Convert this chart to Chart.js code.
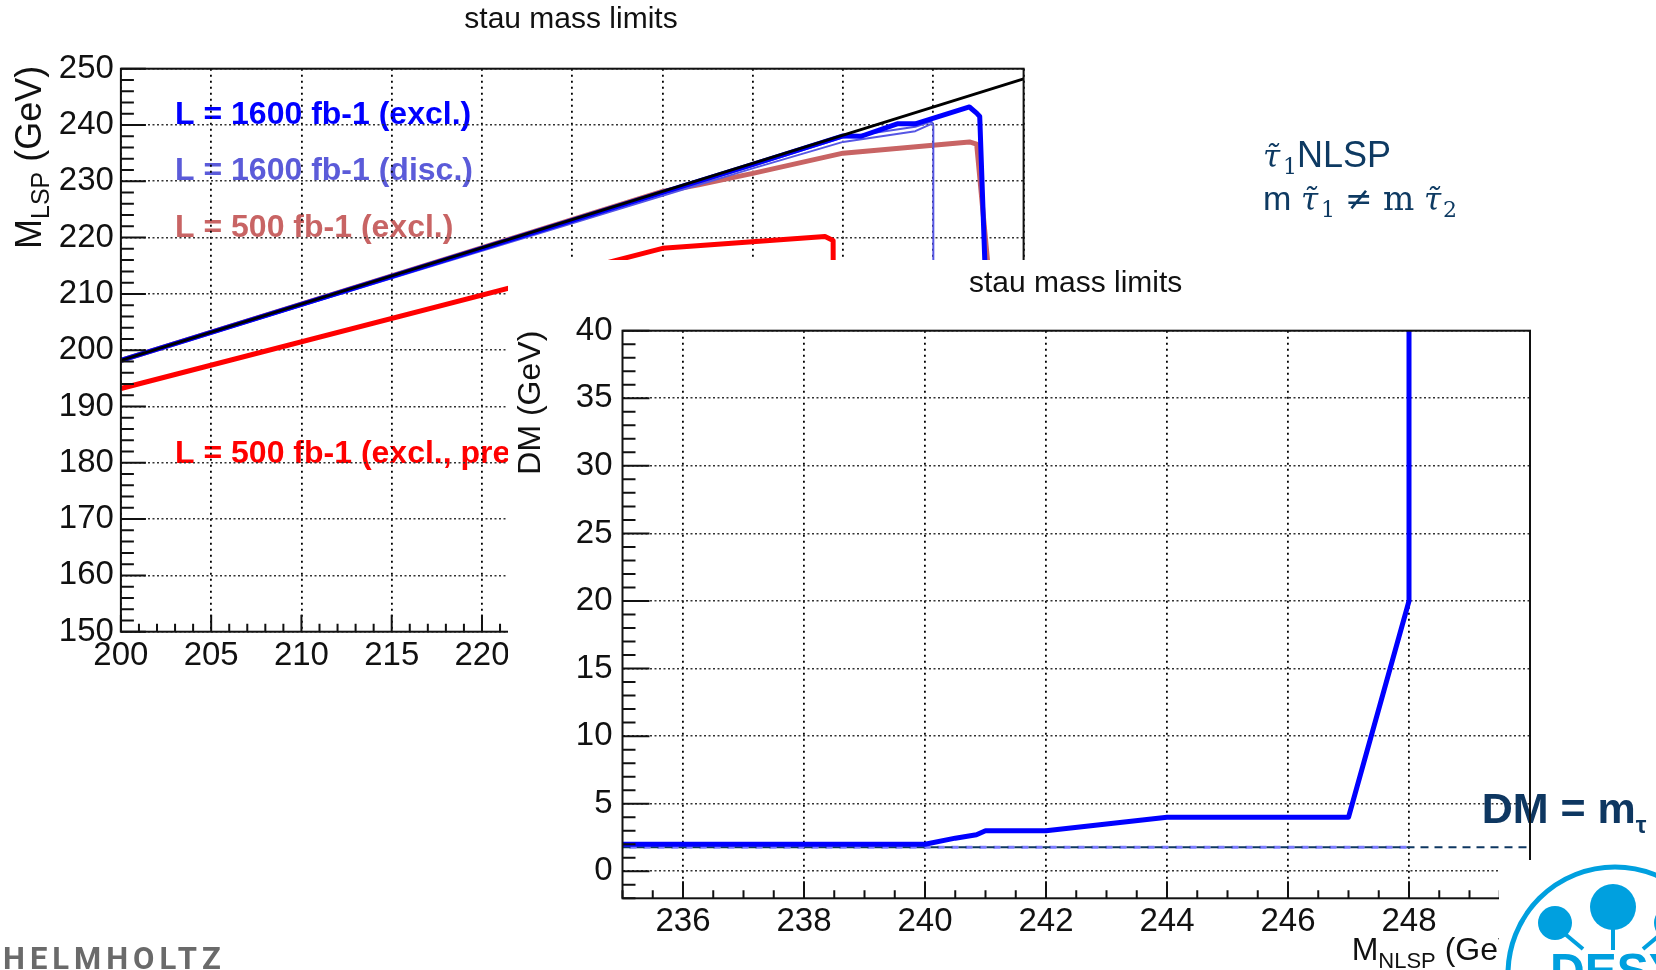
<!DOCTYPE html>
<html>
<head>
<meta charset="utf-8">
<title>stau mass limits</title>
<script src="https://cdn.jsdelivr.net/npm/chart.js@4.4.1/dist/chart.umd.min.js"></script>
<style>
  html, body { margin: 0; padding: 0; background: #fff; }
  body { width: 1656px; height: 970px; position: relative; overflow: hidden; font-family: 'Liberation Sans', Arial, sans-serif; }
  #lspBox { position: absolute; left: 0; top: 0; width: 1142px; height: 700px; }
  #dmBox { position: absolute; left: 508px; top: 260px; width: 1148px; height: 710px; background: #fff; }
  canvas { display: block; }
  #notes { position: absolute; left: 0; top: 0; pointer-events: none; }
  #logo { position: absolute; left: 1499px; top: 860px; width: 157px; height: 110px; background: #fff; overflow: hidden; }
</style>
</head>
<body>
<div id="lspBox"><canvas id="lsp" width="1142" height="700"></canvas></div>
<div id="dmBox"><canvas id="dm" width="1148" height="710"></canvas></div>

<svg id="notes" width="1656" height="970" xmlns="http://www.w3.org/2000/svg">
  <g fill="#0e3a62">
    <text y="167" font-family="Liberation Sans, Arial, sans-serif" font-size="36">
      <tspan x="1263" font-family="DejaVu Serif" font-style="italic" font-size="31">τ̃</tspan><tspan x="1283" dy="7" font-family="DejaVu Serif" font-size="22">1</tspan><tspan x="1297" dy="-7">NLSP</tspan>
    </text>
    <text y="210" font-family="Liberation Sans, Arial, sans-serif" font-size="34">
      <tspan x="1263">m</tspan><tspan x="1301" font-family="DejaVu Serif" font-style="italic" font-size="31">τ̃</tspan><tspan x="1321" dy="7" font-family="DejaVu Serif" font-size="22">1</tspan><tspan x="1345" dy="-7" font-family="DejaVu Serif" font-size="33">≠</tspan><tspan x="1383" font-family="DejaVu Serif" font-size="33">m</tspan><tspan x="1424" font-family="DejaVu Serif" font-style="italic" font-size="31">τ̃</tspan><tspan x="1443" dy="7" font-family="DejaVu Serif" font-size="22">2</tspan>
    </text>
  </g>
  <text x="3" y="969" font-family="Roboto, 'Liberation Sans', sans-serif" font-weight="700" font-size="31" letter-spacing="5" fill="#6a6a6a">HELMHOLTZ</text>
</svg>

<div id="logo">
  <svg width="157" height="110" xmlns="http://www.w3.org/2000/svg">
    <g fill="#00a0df" stroke="#00a0df">
      <circle cx="116" cy="114" r="107" fill="none" stroke-width="5"/>
      <circle cx="114" cy="47" r="23" stroke="none"/>
      <line x1="114" y1="66" x2="114" y2="90" stroke-width="4"/>
      <circle cx="56" cy="63" r="17" stroke="none"/>
      <line x1="66" y1="74" x2="84" y2="89" stroke-width="4"/>
      <circle cx="172" cy="63" r="17" stroke="none"/>
      <line x1="162" y1="74" x2="144" y2="89" stroke-width="4"/>
      <text x="51" y="127" stroke="none" font-family="Liberation Sans, Arial, sans-serif" font-weight="700" font-size="48">DESY</text>
    </g>
  </svg>
</div>

<script>
// ---------- axis ticks ----------
const lspTicksX = [200, 205, 210, 215, 220, 225, 230, 235, 240, 245, 250];
const lspTicksY = [150, 160, 170, 180, 190, 200, 210, 220, 230, 240, 250];
const dmTicksX  = [236, 238, 240, 242, 244, 246, 248];
const dmTicksY  = [0, 5, 10, 15, 20, 25, 30, 35, 40];

// ---------- M_LSP vs M_NLSP contours, [M_NLSP, M_LSP] in GeV ----------
const kinematicEdge  = [[200, 198.2], [250, 248.2]];
const excl1600       = [[200, 198.2], [235, 233.0], [240, 238.05], [241, 238.0], [243, 240.2], [244, 240.2],
                        [247, 243.2], [247.4, 242.1], [247.57, 241.5], [247.85, 216], [247.9, 150]];
const disc1600Upper  = [[200, 198.2], [235, 232.7], [240, 237.8], [244, 239.7], [244.9, 240.6], [245, 240], [245, 150]];
const disc1600Lower  = [[200, 198.1], [235, 232.3], [240, 237.0], [244, 238.9], [244.9, 240.2]];
const excl500        = [[200, 198.2], [230, 228.2], [232, 229.4], [235, 231.4], [240, 235.0], [247, 237.0],
                        [247.4, 236.6], [248, 216], [248.1, 150]];
const excl500prelim  = [[200, 193.2], [230, 218.1], [239, 220.2], [239.45, 219.5], [239.5, 150]];
const lspLabels      = ['L = 1600 fb-1 (excl.)', 'L = 1600 fb-1 (disc.)', 'L = 500 fb-1 (excl.)', 'L = 500 fb-1 (excl., prel.)'];

// ---------- DM vs M_NLSP, [M_NLSP, DM] in GeV ----------
const dmExcl1600 = [[235, 2], [240, 2], [240.5, 2.45], [240.85, 2.7], [241, 3], [242, 3], [244, 4], [247, 4], [248, 20], [248, 40]];
const mTau = 1.777;
const dmTauBlue = [[235, mTau], [248, mTau]];
const dmTauLine = [[235, mTau], [250, mTau]];

const FONT = "'Liberation Sans', Arial, Helvetica, sans-serif";
const toXY = arr => arr.map(([x, y]) => ({ x, y }));

function partsWidth(ctx, parts) {
  let w = 0;
  for (const p of parts) { ctx.font = (p.bold ? 'bold ' : '') + p.size + 'px ' + FONT; w += ctx.measureText(p.t).width; }
  return w;
}
function drawParts(ctx, parts, x, y, align) {
  const w = partsWidth(ctx, parts);
  let cx = align === 'right' ? x - w : align === 'center' ? x - w / 2 : x;
  ctx.textAlign = 'left';
  ctx.textBaseline = 'alphabetic';
  for (const p of parts) {
    ctx.font = (p.bold ? 'bold ' : '') + p.size + 'px ' + FONT;
    ctx.fillText(p.t, cx, y + (p.dy || 0));
    cx += ctx.measureText(p.t).width;
  }
}

// ROOT-style inner ticks, frame and axis titles
function rootFrame(o) {
  return {
    id: 'rootFrame',
    beforeDraw(chart) { if (o.under) o.under(chart); },
    beforeDatasetsDraw(chart) { if (o.over) o.over(chart); },
    afterDatasetsDraw(chart) {
      const { ctx, chartArea: a, scales: { x, y } } = chart;
      ctx.save();
      ctx.strokeStyle = '#111';
      ctx.lineWidth = 2;
      ctx.beginPath();
      for (let v = x.min; v <= x.max + 1e-6; v += o.xMinor) {
        const px = x.getPixelForValue(v);
        const major = Math.abs((v - o.xMajor0) / o.xMajor - Math.round((v - o.xMajor0) / o.xMajor)) < 1e-6;
        ctx.moveTo(px, a.bottom);
        ctx.lineTo(px, a.bottom - (major ? o.xMajorLen : o.xMinorLen));
      }
      for (let v = y.min; v <= y.max + 1e-6; v += o.yMinor) {
        const py = y.getPixelForValue(v);
        const major = Math.abs((v - o.yMajor0) / o.yMajor - Math.round((v - o.yMajor0) / o.yMajor)) < 1e-6;
        ctx.moveTo(a.left, py);
        ctx.lineTo(a.left + (major ? o.yMajorLen : o.yMinorLen), py);
      }
      ctx.stroke();
      ctx.strokeStyle = '#111';
      ctx.lineWidth = 2;
      ctx.strokeRect(a.left, a.top, a.right - a.left, a.bottom - a.top);
      ctx.restore();

      ctx.save();
      ctx.fillStyle = '#111';
      ctx.font = '30px ' + FONT;
      ctx.textAlign = 'center';
      ctx.textBaseline = 'middle';
      ctx.fillText('stau mass limits', o.titleX, o.titleY);
      // y-axis title, top aligned
      ctx.translate(o.yTitleX, a.top + o.yTitleShift);
      ctx.rotate(-Math.PI / 2);
      drawParts(ctx, o.yTitle, 0, 0, 'right');
      ctx.restore();
      ctx.save();
      ctx.fillStyle = '#111';
      drawParts(ctx, o.xTitle, a.right, o.xTitleY, 'right');
      ctx.restore();
    }
  };
}

const gridX = { color: '#000', lineWidth: 1.8, drawTicks: false };
const gridY = { color: '#333', lineWidth: 1.6, drawTicks: false };
const tickFont = { family: FONT, size: 33 };

// ---------- M_LSP plot ----------
new Chart(document.getElementById('lsp'), {
  type: 'scatter',
  data: {
    datasets: [
      { data: toXY(kinematicEdge), borderColor: '#000', borderWidth: 3 },
      { data: toXY(excl1600), borderColor: '#0000ff', borderWidth: 5 },
      { data: toXY(disc1600Upper), borderColor: '#5656e4', borderWidth: 2 },
      { data: toXY(disc1600Lower), borderColor: '#5656e4', borderWidth: 2 },
      { data: toXY(excl500), borderColor: '#c86464', borderWidth: 5 },
      { data: toXY(excl500prelim), borderColor: '#ff0000', borderWidth: 5 }
    ].map(d => Object.assign(d, { showLine: true, pointRadius: 0, tension: 0, borderJoinStyle: 'round' }))
  },
  options: {
    responsive: false,
    devicePixelRatio: 1,
    animation: false,
    layout: { padding: { left: 0, top: 68.7, right: 118.4, bottom: 18.3 } },
    plugins: { legend: { display: false }, tooltip: { enabled: false } },
    scales: {
      x: {
        type: 'linear', min: 200, max: 250,
        afterBuildTicks: s => { s.ticks = lspTicksX.map(v => ({ value: v })); },
        afterFit: s => { s.height = 50; },
        ticks: { font: tickFont, color: '#111', padding: 4, maxRotation: 0, autoSkip: false },
        grid: gridX, border: { display: false, dash: [2, 4] }
      },
      y: {
        type: 'linear', min: 150, max: 250,
        afterBuildTicks: s => { s.ticks = lspTicksY.map(v => ({ value: v })); },
        afterFit: s => { s.width = 120.9; },
        ticks: { font: tickFont, color: '#111', padding: 7, autoSkip: false },
        grid: gridY, border: { display: false, dash: [2, 2.5] }
      }
    }
  },
  plugins: [rootFrame({
    xMinor: 1, xMajor: 5, xMajor0: 200, xMajorLen: 17, xMinorLen: 8,
    yMinor: 2, yMajor: 10, yMajor0: 150, yMajorLen: 25, yMinorLen: 13,
    titleX: 571, titleY: 20, yTitleX: 41, yTitleShift: -3,
    yTitle: [{ t: 'M', size: 36 }, { t: 'LSP', size: 25, dy: 8 }, { t: ' (GeV)', size: 36 }],
    xTitle: [{ t: 'M', size: 32 }, { t: 'NLSP', size: 22, dy: 8 }, { t: ' (GeV)', size: 32 }],
    xTitleY: 693,
    under(chart) {
      const { ctx, scales: { x, y } } = chart;
      const colors = ['#0000ff', '#5b5bd9', '#c86464', '#ff0000'];
      const at = [240.2, 230.2, 220.05, 179.9];
      ctx.save();
      ctx.font = 'bold 32px ' + FONT;
      ctx.textAlign = 'left';
      ctx.textBaseline = 'alphabetic';
      lspLabels.forEach((t, i) => {
        ctx.fillStyle = colors[i];
        ctx.fillText(t, x.getPixelForValue(203), y.getPixelForValue(at[i]));
      });
      ctx.restore();
    }
  })]
});

// ---------- DM plot ----------
new Chart(document.getElementById('dm'), {
  type: 'scatter',
  data: {
    datasets: [
      { data: toXY(dmExcl1600), borderColor: '#0000ff', borderWidth: 5 },
      { data: toXY(dmTauLine), borderColor: '#0e3761', borderWidth: 2, borderDash: [8, 6] },
      { data: toXY(dmTauBlue), borderColor: '#7a7aff', borderWidth: 3, borderDash: [7, 7], borderDashOffset: 7 }
    ].map(d => Object.assign(d, { showLine: true, pointRadius: 0, tension: 0, borderJoinStyle: 'round' }))
  },
  options: {
    responsive: false,
    devicePixelRatio: 1,
    animation: false,
    layout: { padding: { left: 0, top: 70.7, right: 126, bottom: 21.7 } },
    plugins: { legend: { display: false }, tooltip: { enabled: false } },
    scales: {
      x: {
        type: 'linear', min: 235, max: 250,
        afterBuildTicks: s => { s.ticks = dmTicksX.map(v => ({ value: v })); },
        afterFit: s => { s.height = 50; },
        ticks: { font: tickFont, color: '#111', padding: 4, maxRotation: 0, autoSkip: false },
        grid: gridX, border: { display: false, dash: [2, 4] }
      },
      y: {
        type: 'linear', min: -2, max: 40,
        afterBuildTicks: s => { s.ticks = dmTicksY.map(v => ({ value: v })); },
        afterFit: s => { s.width = 114.5; },
        ticks: { font: tickFont, color: '#111', padding: 10, autoSkip: false },
        grid: gridY, border: { display: false, dash: [2, 2.5] }
      }
    }
  },
  plugins: [rootFrame({
    xMinor: 0.5, xMajor: 2, xMajor0: 236, xMajorLen: 17, xMinorLen: 8,
    yMinor: 1, yMajor: 5, yMajor0: 0, yMajorLen: 27, yMinorLen: 13,
    titleX: 567.6, titleY: 24, yTitleX: 32, yTitleShift: 0,
    yTitle: [{ t: 'DM (GeV)', size: 32 }],
    xTitle: [{ t: 'M', size: 32 }, { t: 'NLSP', size: 22, dy: 8 }, { t: ' (GeV)', size: 32 }],
    xTitleY: 700,
    over(chart) {
      const ctx = chart.ctx;
      ctx.save();
      ctx.fillStyle = '#0e3761';
      drawParts(ctx, [{ t: 'DM = m', size: 43, bold: true }, { t: 'τ', size: 24, bold: true, dy: 10 }], 973.7, 563, 'left');
      ctx.restore();
    }
  })]
});
</script>
</body>
</html>
